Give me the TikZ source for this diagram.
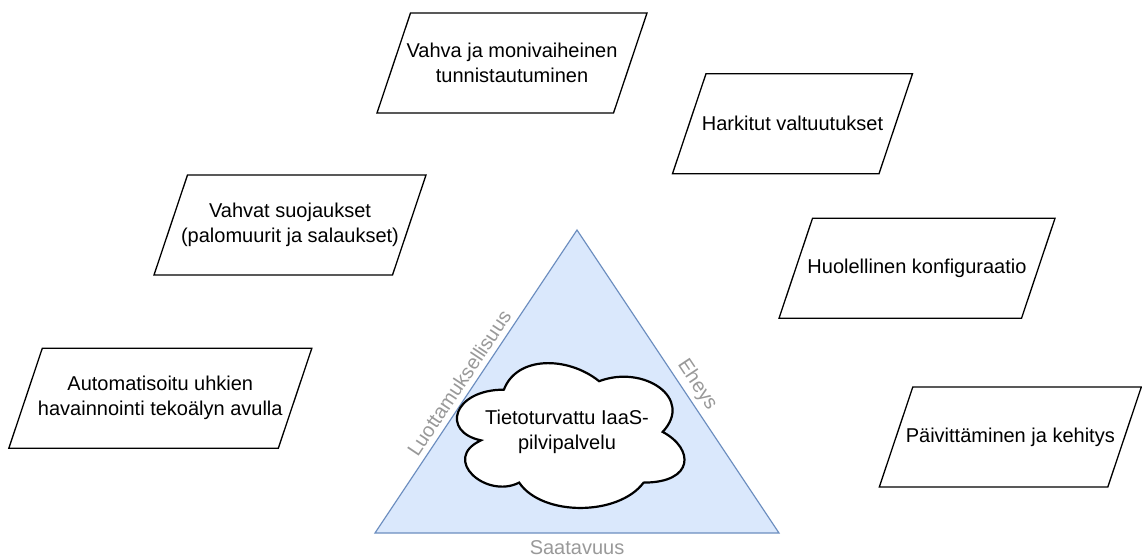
\documentclass[tikz,border=0pt]{standalone}
\usepackage{fontspec}
\setmainfont{Liberation Sans}
\definecolor{paleblue}{RGB}{218,232,252}
\definecolor{steel}{RGB}{108,142,191}
\definecolor{ash}{RGB}{153,153,153}

\begin{document}
\begin{tikzpicture}[x=1pt,y=-1pt,
    measure/.style={rectangle,align=center,minimum height=100pt,minimum width=#1,
      inner sep=0pt,outer sep=0pt,font=\fontsize{20}{25}\selectfont},
    frame/.style={draw=black,line width=1.3pt,line join=miter},
    side/.style={text=ash,font=\fontsize{20}{24}\selectfont,inner sep=0pt}]
  \useasboundingbox (0,0) rectangle (1142,559);
  \coordinate (T) at (577,230); \coordinate (L) at (375,533); \coordinate (R) at (779,533);
  \fill[paleblue,draw=steel,line width=1.2pt] (T) -- (L) -- (R) -- cycle;
  % cloud in the middle
  \begin{scope}[shift={(440.4,347.4)},x=254pt,y=-169pt]
    \filldraw[fill=white,draw=black,line width=2.2pt] (0.25,0.25)
      .. controls (0.05,0.25) and (0,0.5) .. (0.16,0.55)
      .. controls (0,0.66) and (0.18,0.9) .. (0.31,0.8)
      .. controls (0.4,1) and (0.7,1) .. (0.8,0.8)
      .. controls (1,0.8) and (1,0.6) .. (0.875,0.5)
      .. controls (1,0.3) and (0.8,0.1) .. (0.625,0.2)
      .. controls (0.5,0.05) and (0.3,0.05) .. (0.25,0.25) -- cycle;
  \end{scope}
  \node[align=center,font=\fontsize{20}{25}\selectfont] (core) at (567,432) {Tietoturvattu IaaS-\\pilvipalvelu};
  % sides of the triangle
  \node[side,rotate=56.3] (conf) at (459,383) {Luottamuksellisuus};
  \node[side,rotate=-56.3] (integ) at (697,385) {Eheys};
  \node[side,anchor=base] (avail) at (577,554.5) {Saatavuus};
  % measures around it
  \node[measure=270pt] (auth) at (512,63) {Vahva ja monivaiheinen\\tunnistautuminen};
  \node[measure=240pt] (perm) at (792.5,123.7) {Harkitut valtuutukset};
  \node[measure=272pt] (shield) at (290,225) {Vahvat suojaukset\\(palomuurit ja salaukset)};
  \node[measure=303pt] (detect) at (160.3,398.3) {Automatisoitu uhkien\\havainnointi tekoälyn avulla};
  \node[measure=276pt] (config) at (917,268.3) {Huolellinen konfiguraatio};
  \node[measure=262pt] (update) at (1010.3,437) {Päivittäminen ja kehitys};
  \foreach \m in {auth,perm,shield,detect,config,update}
    \draw[frame] ([xshift=33.5pt]\m.north west) -- (\m.north east)
      -- ([xshift=-33.5pt]\m.south east) -- (\m.south west) -- cycle;
\end{tikzpicture}
\end{document}
